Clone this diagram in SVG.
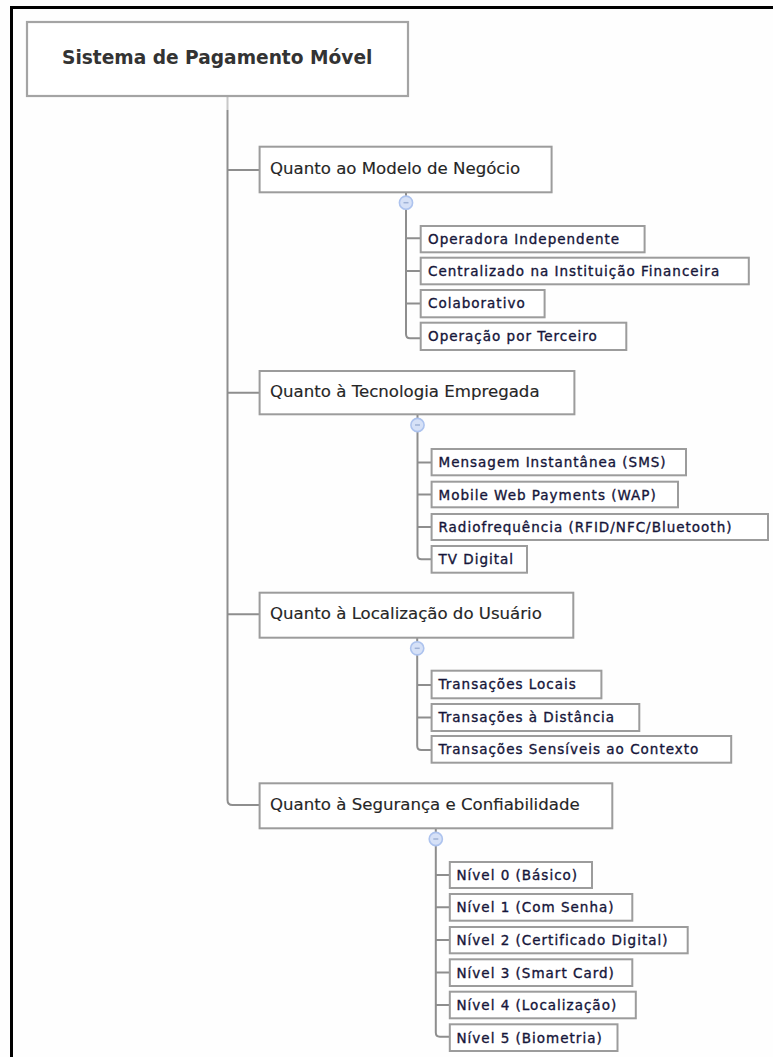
<svg xmlns="http://www.w3.org/2000/svg" width="773" height="1057" viewBox="0 0 773 1057">
  <style>
    .frame { stroke: #000; stroke-width: 3; fill: none; }
    .box { fill: #fff; stroke: #9c9c9c; stroke-width: 2; }
    .root-box { fill: #fff; stroke: #a4a4a4; stroke-width: 2.2; }
    .root-text { font-family: "DejaVu Sans", Verdana, sans-serif; font-weight: bold; font-size: 18.6px; fill: #333; }
    .cat-text { font-family: "DejaVu Sans", Verdana, sans-serif; font-size: 16.6px; fill: #262626; stroke: #262626; stroke-width: 0.15; }
    .leaf-text { font-family: "DejaVu Sans", Verdana, sans-serif; font-size: 13.5px; letter-spacing: 1px; fill: #16163a; stroke: #16163a; stroke-width: 0.35; }
    .link { stroke: #8e8e8e; stroke-width: 2; fill: none; }
    .toggle { fill: #d6e1f7; stroke: #adc3ee; stroke-width: 1.6; }
    .minus { stroke: #9fb2d6; stroke-width: 1.5; }
  </style>

  <rect x="0" y="0" width="773" height="1057" fill="#fefefe"/>

  <!-- outer frame: top and left edges -->
  <path class="frame" d="M10 7.5 H773 M11.5 6 V1057"/>

  <!-- connectors -->
  <g id="connectors">
    <!-- trunk from the root down to the last category -->
    <path d="M227.5 96 V110" stroke="#c8c8c8" stroke-width="2" fill="none"/>
    <path class="link" d="M227.5 110 V800 Q227.5 805 232.5 805 H259.6"/>
    <path class="link" d="M227.5 170 H259.6"/>
    <path class="link" d="M227.5 392.7 H259.6"/>
    <path class="link" d="M227.5 614.3 H259.6"/>

    <!-- modelo de negócio -->
    <path class="link" d="M406 192.3 V196.5 M406 209 V334 Q406 338.3 410 338.3 H420.7"/>
    <path class="link" d="M406 238.3 H420.7 M406 271 H420.7 M406 303.5 H420.7"/>

    <!-- tecnologia -->
    <path class="link" d="M417.5 414.3 V418.5 M417.5 431.5 V555 Q417.5 559.3 421.5 559.3 H431.6"/>
    <path class="link" d="M417.5 462.5 H431.6 M417.5 494.5 H431.6 M417.5 527 H431.6"/>

    <!-- localização -->
    <path class="link" d="M417.2 637.7 V641.8 M417.2 654.8 V745.7 Q417.2 750 421.2 750 H431.6"/>
    <path class="link" d="M417.2 685 H431.6 M417.2 717.5 H431.6"/>

    <!-- segurança -->
    <path class="link" d="M435.8 828.3 V832.5 M435.8 845.5 V1032.5 Q435.8 1036.7 439.8 1036.7 H449.8"/>
    <path class="link" d="M435.8 875 H449.8 M435.8 907.3 H449.8 M435.8 940 H449.8 M435.8 972.5 H449.8 M435.8 1005 H449.8"/>
  </g>

  <!-- collapse toggles -->
  <g id="toggles">
    <circle class="toggle" cx="406" cy="202.7" r="6.6"/>
    <line class="minus" x1="403.5" y1="202.7" x2="408.5" y2="202.7"/>
    <circle class="toggle" cx="417.5" cy="425" r="6.6"/>
    <line class="minus" x1="415" y1="425" x2="420" y2="425"/>
    <circle class="toggle" cx="417.2" cy="648.3" r="6.6"/>
    <line class="minus" x1="414.7" y1="648.3" x2="419.7" y2="648.3"/>
    <circle class="toggle" cx="435.8" cy="839" r="6.6"/>
    <line class="minus" x1="433.3" y1="839" x2="438.3" y2="839"/>
  </g>

  <!-- root -->
  <g id="root">
    <rect class="root-box" x="27" y="22" width="381" height="74"/>
    <text class="root-text" x="62" y="64">Sistema de Pagamento Móvel</text>
  </g>

  <!-- categories -->
  <g id="cat-modelo">
    <rect class="box" x="259.6" y="146.7" width="292" height="45.6"/>
    <text class="cat-text" x="270" y="173.5">Quanto ao Modelo de Negócio</text>
  </g>
  <g id="cat-tecnologia">
    <rect class="box" x="259.6" y="371" width="314.8" height="43.3"/>
    <text class="cat-text" x="270" y="397">Quanto à Tecnologia Empregada</text>
  </g>
  <g id="cat-localizacao">
    <rect class="box" x="259.6" y="592.7" width="313.7" height="45"/>
    <text class="cat-text" x="270" y="619">Quanto à Localização do Usuário</text>
  </g>
  <g id="cat-seguranca">
    <rect class="box" x="259.6" y="783.3" width="352.7" height="45"/>
    <text class="cat-text" x="270" y="810">Quanto à Segurança e Confiabilidade</text>
  </g>

  <!-- modelo de negócio: leaves -->
  <g id="m-operadora">
    <rect class="box" x="420.7" y="226" width="223.9" height="26.3"/>
    <text class="leaf-text" x="428" y="244">Operadora Independente</text>
  </g>
  <g id="m-centralizado">
    <rect class="box" x="420.7" y="257.7" width="328.1" height="26.6"/>
    <text class="leaf-text" x="428" y="276">Centralizado na Instituição Financeira</text>
  </g>
  <g id="m-colaborativo">
    <rect class="box" x="420.7" y="290" width="123.9" height="27.3"/>
    <text class="leaf-text" x="428" y="308">Colaborativo</text>
  </g>
  <g id="m-terceiro">
    <rect class="box" x="420.7" y="322.7" width="205.6" height="27.3"/>
    <text class="leaf-text" x="428" y="341">Operação por Terceiro</text>
  </g>

  <!-- tecnologia: leaves -->
  <g id="t-sms">
    <rect class="box" x="431.6" y="449" width="254.4" height="26.3"/>
    <text class="leaf-text" x="438.5" y="467">Mensagem Instantânea (SMS)</text>
  </g>
  <g id="t-wap">
    <rect class="box" x="431.6" y="481.7" width="246.4" height="25.6"/>
    <text class="leaf-text" x="438.5" y="499.5">Mobile Web Payments (WAP)</text>
  </g>
  <g id="t-rf">
    <rect class="box" x="431.6" y="514" width="336.4" height="26"/>
    <text class="leaf-text" x="438.5" y="532">Radiofrequência (RFID/NFC/Bluetooth)</text>
  </g>
  <g id="t-tv">
    <rect class="box" x="431.6" y="546" width="95.4" height="26.7"/>
    <text class="leaf-text" x="438.5" y="564">TV Digital</text>
  </g>

  <!-- localização: leaves -->
  <g id="l-locais">
    <rect class="box" x="431.6" y="670.7" width="169.8" height="27.6"/>
    <text class="leaf-text" x="438.5" y="689">Transações Locais</text>
  </g>
  <g id="l-distancia">
    <rect class="box" x="431.6" y="704" width="207.7" height="27"/>
    <text class="leaf-text" x="438.5" y="722">Transações à Distância</text>
  </g>
  <g id="l-contexto">
    <rect class="box" x="431.6" y="736" width="299.6" height="26.7"/>
    <text class="leaf-text" x="438.5" y="754">Transações Sensíveis ao Contexto</text>
  </g>

  <!-- segurança: leaves -->
  <g id="s-nivel0">
    <rect class="box" x="449.8" y="862" width="142.2" height="26"/>
    <text class="leaf-text" x="456.5" y="880">Nível 0 (Básico)</text>
  </g>
  <g id="s-nivel1">
    <rect class="box" x="449.8" y="894" width="182.5" height="26.7"/>
    <text class="leaf-text" x="456.5" y="912">Nível 1 (Com Senha)</text>
  </g>
  <g id="s-nivel2">
    <rect class="box" x="449.8" y="927" width="237.9" height="26.3"/>
    <text class="leaf-text" x="456.5" y="945">Nível 2 (Certificado Digital)</text>
  </g>
  <g id="s-nivel3">
    <rect class="box" x="449.8" y="959.3" width="182.5" height="26.7"/>
    <text class="leaf-text" x="456.5" y="977.5">Nível 3 (Smart Card)</text>
  </g>
  <g id="s-nivel4">
    <rect class="box" x="449.8" y="991.7" width="186" height="26.6"/>
    <text class="leaf-text" x="456.5" y="1010">Nível 4 (Localização)</text>
  </g>
  <g id="s-nivel5">
    <rect class="box" x="449.8" y="1024.3" width="167.7" height="26.7"/>
    <text class="leaf-text" x="456.5" y="1042.5">Nível 5 (Biometria)</text>
  </g>
</svg>
